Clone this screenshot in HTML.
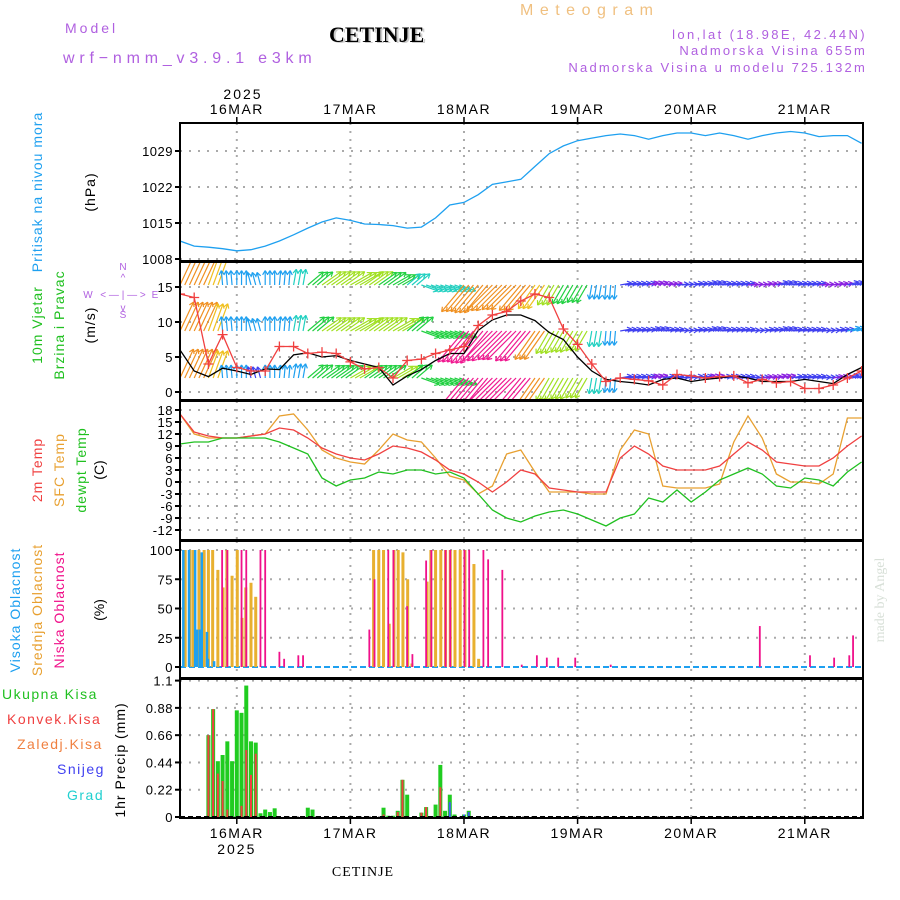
<!DOCTYPE html>
<html><head><meta charset="utf-8"><style>
html,body{margin:0;padding:0;background:#fff;}
svg{display:block;font-family:"Liberation Sans",sans-serif;}
</style></head><body>
<svg id="chart" width="900" height="900" viewBox="0 0 900 900">
<g>
<text x="65" y="33" fill="#b060e0" font-size="14" letter-spacing="3">Model</text>
<text x="63" y="63" fill="#b060e0" font-size="16" letter-spacing="4.8">wrf−nmm_v3.9.1 e3km</text>
<text x="331" y="43" fill="#ccc" font-size="22" font-weight="bold" font-family="Liberation Serif,serif">CETINJE</text>
<text x="329" y="42" fill="#000" font-size="22" font-weight="bold" font-family="Liberation Serif,serif">CETINJE</text>
<text x="520" y="15" fill="#f0c080" font-size="16" letter-spacing="6.5">Meteogram</text>
<text x="867" y="39" fill="#b060e0" font-size="13" text-anchor="end" letter-spacing="2.4">lon,lat (18.98E, 42.44N)</text>
<text x="867" y="55" fill="#b060e0" font-size="13" text-anchor="end" letter-spacing="2.2">Nadmorska Visina 655m</text>
<text x="867" y="72" fill="#b060e0" font-size="13" text-anchor="end" letter-spacing="2.2">Nadmorska Visina u modelu 725.132m</text>
<text x="243" y="99" fill="#000" font-size="14" text-anchor="middle" letter-spacing="2">2025</text>
<text x="363" y="876" fill="#000" font-size="14" text-anchor="middle" font-family="Liberation Serif,serif" letter-spacing="1">CETINJE</text>
<text transform="translate(884,600) rotate(-90)" fill="#d8e0d8" font-size="14" text-anchor="middle" font-family="Liberation Serif,serif">made by Angel</text>
</g>
<g>
<text transform="translate(42,192) rotate(-90)" fill="#1ea0f0" font-size="14" text-anchor="middle" letter-spacing="1">Pritisak na nivou mora</text>
<text transform="translate(95,192) rotate(-90)" fill="#000" font-size="14" text-anchor="middle" letter-spacing="1">(hPa)</text>
<text transform="translate(42,325) rotate(-90)" fill="#20c020" font-size="14" text-anchor="middle" letter-spacing="1">10m Vjetar</text>
<text transform="translate(64,325) rotate(-90)" fill="#20c020" font-size="14" text-anchor="middle" letter-spacing="1">Brzina i Pravac</text>
<text transform="translate(95,325) rotate(-90)" fill="#000" font-size="14" text-anchor="middle" letter-spacing="1">(m/s)</text>
<g fill="#b060e0" font-size="10" text-anchor="middle">
<text x="123" y="270">N</text><text x="123" y="281">^</text><text x="123" y="318">S</text><text x="123" y="311">v</text>
<text x="88" y="298">W</text><text x="155" y="298">E</text>
<text x="123" y="298">&lt; — | — &gt;</text></g>
<text transform="translate(42,470) rotate(-90)" fill="#f04040" font-size="14" text-anchor="middle" letter-spacing="1">2m Temp</text>
<text transform="translate(64,470) rotate(-90)" fill="#e8a030" font-size="14" text-anchor="middle" letter-spacing="1">SFC Temp</text>
<text transform="translate(86,470) rotate(-90)" fill="#20c020" font-size="14" text-anchor="middle" letter-spacing="1">dewpt Temp</text>
<text transform="translate(104,470) rotate(-90)" fill="#000" font-size="14" text-anchor="middle">(C)</text>
<text transform="translate(20,610) rotate(-90)" fill="#1ea0f0" font-size="14" text-anchor="middle" letter-spacing="1">Visoka Oblacnost</text>
<text transform="translate(42,610) rotate(-90)" fill="#e8a030" font-size="14" text-anchor="middle" letter-spacing="1">Srednja Oblacnost</text>
<text transform="translate(64,610) rotate(-90)" fill="#f0108a" font-size="14" text-anchor="middle" letter-spacing="1">Niska Oblacnost</text>
<text transform="translate(104,610) rotate(-90)" fill="#000" font-size="14" text-anchor="middle">(%)</text>
<text transform="translate(125,760) rotate(-90)" fill="#000" font-size="14" text-anchor="middle" letter-spacing="1">1hr Precip (mm)</text>
<text x="2" y="699" fill="#20c020" font-size="14" letter-spacing="1.5">Ukupna Kisa</text>
<text x="7" y="724" fill="#f04040" font-size="14" letter-spacing="1.5">Konvek.Kisa</text>
<text x="17" y="749" fill="#f08040" font-size="14" letter-spacing="1.5">Zaledj.Kisa</text>
<text x="57" y="774" fill="#4040f0" font-size="14" letter-spacing="1.5">Snijeg</text>
<text x="67" y="800" fill="#20d0d0" font-size="14" letter-spacing="1.5">Grad</text>
</g>
<g id="plot"></g>
</svg>
<script>
const dayLabels=["16MAR","17MAR","18MAR","19MAR","20MAR","21MAR"];
const dayHours=[12,36,60,84,108,132];
const pressure=[1011.5,1010.5,1010.3,1010,1009.6,1009.8,1010.5,1011.5,1012.7,1014,1015.2,1016,1015.5,1014.8,1014.7,1014.5,1014,1014.2,1016,1018.5,1019,1020.5,1022.5,1023,1023.5,1026,1028.5,1030,1031,1031.5,1032,1032.3,1032,1031.3,1032,1032.5,1032.5,1032,1032.5,1032,1031.3,1032,1032.5,1032.8,1032.5,1031.8,1032,1032,1030.5];
const windSpeed=[6,3,2.2,3.4,3,2.5,3.3,3.2,5.3,5.6,5,5.2,4.5,4,3.5,1,2.3,3.2,4.5,5.5,5.5,8.8,10.3,11,11,10.2,8.5,7.5,5,3,1.8,1.5,1.3,1,1.8,2,1.5,1.8,2,2.3,2,1.5,1.5,1.5,1.8,1.5,1.2,2.5,3.5];
const windGust=[14,13.5,4,8.2,3.5,3,3,6.5,6.5,5.5,5.7,5.5,4.3,3.3,3.5,2,4.5,4.7,5.5,6,6.5,9.5,11,11.5,13,14,13.5,9,6.8,4,1.5,2,1.8,1.6,1,2.5,2.3,2,2.2,2.3,1.3,1.8,1.3,1.5,0.5,0.5,1,2,3];
const windDir=[25,25,20,355,0,345,0,5,10,50,55,55,60,55,55,60,50,110,110,110,220,220,225,225,220,215,210,210,210,190,185,80,80,75,80,85,80,75,80,80,85,80,75,80,80,85,80,75,60];
const windLev1=[22,22,20,9,9,8,9,9,10,14,15,15,16,15,15,16,14,13,13,13,28,28,29,28,27,24,18,17,16,11,10,8,8,7,8,8,8,7,8,8,8,7,7,8,8,8,7,8,9];
const windLev2=[22,22,20,10,10,9,10,10,11,15,16,16,17,16,16,17,15,13,13,13,28,29,29,28,27,24,18,17,16,11,10,8,8,8,8,8,8,8,8,8,8,8,8,8,8,8,8,9,9];
const windLev3=[22,22,20,10,10,9,10,10,11,14,16,16,17,16,15,14,12,12,12,12,24,25,25,24,23,20,16,15,14,10,10,8,8,7,7,8,8,8,8,8,7,7,8,8,8,7,7,8,9];
const temp2m=[17,12.5,11.5,11,11,11.5,12,13.5,13,11,8.5,7,6,5.5,7,9,8.5,7.5,5.5,3,2,0,-2.5,0,3,2,-1.5,-2,-2.5,-2.5,-2.5,6,9,7,4,3,3,3,4,7,10,8,5,4.5,4,4,6,9,11.5];
const tempSfc=[17,12,11,11,11,11.5,12,16.5,17,13,8,6,5,4.5,8,12,10.5,10,6,1.5,0.5,-3,-1,7,8,2.5,-2.5,-2.5,-2.5,-3,-3,8,13,12,-1,-1.5,-1.5,-1.5,-0.5,10,16.5,11,2,0,0,-0.5,2,16,16];
const tempDew=[9.5,10,10,11,11,11,11,10,8.5,7,1,-1,0.5,1,2.5,2,3,3,2,2.5,1,-3,-7,-9,-10,-8.5,-7.5,-7,-8,-9.5,-11,-9,-8,-4,-5,-2,-5,-2.5,0.5,2,3.5,2,-1,-1.5,1,0.5,-1,2.5,5];
const highCloudH=[0.7,1.9,3.2,3.6,4.2,4.6,5.7,5.9,7.2];
const highCloudV=[100,100,100,32,32,98,30,7,5];
const midCloudH=[1.1,2.1,2.8,4,5.1,6,6.9,8,9.1,9.9,11,12.1,13.1,13.9,15,16,40.9,42,43,44.2,45.2,46.1,47.1,48.1,49,52.2,53,54,55.1,56.1,57.1,58.1,59.2,60.2,62.1,63.1];
const midCloudV=[100,100,100,100,100,100,100,83,68,100,78,100,42,68,72,60,100,100,100,37,100,100,98,75,3,73,100,100,100,100,100,100,100,100,88,7];
const lowCloudH=[8.9,10,13,14,17,18,21,22,25,26,40,41.1,44,45.1,48,49.1,52,53.1,56.1,57.1,60.1,61.1,64.1,65.1,68.1,72.2,75.4,77.5,79.9,83.5,91,122.5,133.1,138.2,141.4,142.2];
const lowCloudV=[100,100,100,100,100,100,13,7,10,10,32,75,100,100,52,11,91,100,100,100,100,100,100,92,83,2,10,8,8,8,2,35,10,8,10,27];
const precipH=[6,7,8,9,10,11,12,13,14,15,16,17,18,19,20,27,28,43,44,45,46,47,48,51,52,54,55,56,57,58,60,61];
const precipTotal=[0.66,0.87,0.45,0.5,0.61,0.45,0.86,0.84,1.06,0.61,0.6,0.03,0.06,0.04,0.07,0.075,0.06,0.075,0.01,0.01,0.05,0.3,0.18,0.035,0.08,0.1,0.42,0.05,0.18,0.02,0.02,0.05];
const precipConv=[0.66,0.87,0.35,0.29,0.06,0,0,0.09,0.54,0.34,0.51,0,0,0,0,0,0,0.02,0,0,0.04,0.3,0,0.035,0.08,0,0.24,0,0,0,0,0];
const precipSnow=[0,0,0,0,0,0,0,0,0,0,0,0,0,0,0,0,0,0,0,0,0,0,0,0,0,0,0,0,0.12,0,0.02,0.04];
const pTicks=[1008,1015,1022,1029];
const wTicks=[0,5,10,15];
const tTicks=[-12,-9,-6,-3,0,3,6,9,12,15,18];
const cTicks=[0,25,50,75,100];
const rTicks=["0","0.22","0.44","0.66","0.88","1.1"];

const NS="http://www.w3.org/2000/svg";
const plot=document.getElementById('plot');
function mk(tag,attrs,parent){const e=document.createElementNS(NS,tag);for(const k in attrs)e.setAttribute(k,attrs[k]);(parent||plot).appendChild(e);return e;}
const X0=180,X1=863,HOURS=144.3;
const xH=h=>X0+h*(X1-X0)/HOURS;
const yP=p=>259-(p-1008)*36/7;
const yW=w=>392-w*7;
const yT=t=>410+(18-t)*4;
const yC=c=>667-c*1.17;
const yR=r=>817-r*124;
const panels=[{t:123,b:261,n:'pressure-panel'},{t:262,b:400,n:'wind-panel'},{t:401,b:540,n:'temp-panel'},{t:541,b:678,n:'cloud-panel'},{t:679,b:818,n:'precip-panel'}];
const grid=mk('g',{});


panels.forEach(p=>{dayHours.forEach(h=>{mk('line',{x1:xH(h),x2:xH(h),y1:p.t,y2:p.b,stroke:'#aaa','stroke-width':2,'stroke-dasharray':'2,6'},grid);});});
function hgrid(vals,f,fmt,name){const g=mk('g',{});
 vals.forEach(v=>{const y=f(+v);mk('line',{x1:X0,x2:X1,y1:y,y2:y,stroke:'#aaa','stroke-width':2,'stroke-dasharray':'2,7'},g);
 mk('line',{x1:X0-5,x2:X0,y1:y,y2:y,stroke:'#000','stroke-width':2},g);
 const t=mk('text',{x:X0-7,y:y+5,'text-anchor':'end','font-size':13,fill:'#000','letter-spacing':'0.5'},g);t.textContent=fmt(v);});}
hgrid(pTicks,yP,v=>v,'pressure-y-axis');
hgrid(wTicks,yW,v=>v,'wind-y-axis');
hgrid(tTicks,yT,v=>v,'temp-y-axis');
hgrid(cTicks,yC,v=>v,'cloud-y-axis');
hgrid(rTicks,yR,v=>v,'precip-y-axis');
function line(arr,f,color,name,w){const d=arr.map((v,i)=>(i?'L':'M')+xH(i*3).toFixed(1)+','+f(v).toFixed(1)).join('');const p=mk('path',{d:d,fill:'none',stroke:color,'stroke-width':w||1.3});return p;}
const cp1=mk('clipPath',{id:'c1'});mk('rect',{x:X0,y:123,width:X1-X0,height:138},cp1);
line(pressure,yP,'#1ea0f0','pressure-line').setAttribute('clip-path','url(#c1)');
const cp2=mk('clipPath',{id:'c2'});mk('rect',{x:X0,y:262,width:X1-X0,height:138},cp2);
const wg=mk('g',{'clip-path':'url(#c2)'});


function spdColor(s){if(s<7.5)return '#8a20e0';if(s<9)return '#4040f0';if(s<10.5)return '#1ea0f0';if(s<13)return '#20d0c0';if(s<16)return '#20d040';if(s<19)return '#a0e020';if(s<22)return '#f0c020';if(s<26)return '#f09020';return '#f01890';}
const rows=[{b:378,a:windLev1},{b:331,a:windLev2},{b:285,a:windLev3}];
rows.forEach(r=>{r.a.forEach((s,i)=>{for(let k=0;k<3;k++){const h=i*3+k;if(h>144)continue;const d=windDir[i]*Math.PI/180;const L=s*1.45;
 const x0=xH(h),y0=r.b,x1=x0+Math.sin(d)*L,y1=y0-Math.cos(d)*L;const c=spdColor(s);
 mk('line',{x1:x0,y1:y0,x2:x1,y2:y1,stroke:c,'stroke-width':1.2},wg);
 const a=Math.atan2(y1-y0,x1-x0);[2.6,-2.6].forEach(o=>{mk('line',{x1:x1,y1:y1,x2:x1+5*Math.cos(a+o),y2:y1+5*Math.sin(a+o),stroke:c,'stroke-width':1.2},wg);});}});});
line(windSpeed,yW,'#000','wind-speed-line').setAttribute('clip-path','url(#c2)');
line(windGust,yW,'#f04040','wind-gust-line').setAttribute('clip-path','url(#c2)');
const gg=mk('g',{'clip-path':'url(#c2)'});


windGust.forEach((v,i)=>{const x=xH(i*3),y=yW(v);mk('path',{d:`M${x-5},${y}H${x+5}M${x},${y-5}V${y+5}`,stroke:'#f04040','stroke-width':1.3},gg);});
line(tempSfc,yT,'#e8a030','sfc-temp-line');
line(temp2m,yT,'#f04040','temp-2m-line');
line(tempDew,yT,'#20c020','dewpoint-line');
function bars(H,V,f,color,w,name){const g=mk('g',{});
 H.forEach((h,i)=>{const y=f(V[i]);mk('rect',{x:xH(h)-w/2,y:y,width:w,height:Math.max(0,f(0)-y),fill:color},g);});}
mk('line',{x1:X0,x2:X1,y1:667,y2:667,stroke:'#1ea0f0','stroke-width':2,'stroke-dasharray':'6,3'});
bars(midCloudH,midCloudV,yC,'#e8b030',3,'mid-cloud-bars');
bars(highCloudH,highCloudV,yC,'#1ea0f0',2.5,'high-cloud-bars');
bars(lowCloudH,lowCloudV,yC,'#f0108a',1.8,'low-cloud-bars');
bars(precipH,precipTotal,yR,'#20cc20',4,'precip-total-bars');
bars(precipH,precipConv,yR,'#f04040',2,'precip-convective-bars');
bars(precipH,precipSnow,yR,'#4060f0',2,'precip-snow-bars');
mk('line',{x1:X0,x2:X1,y1:817,y2:817,stroke:'#000','stroke-width':2,'stroke-dasharray':'5,3'});
panels.forEach(p=>{const r=mk('rect',{x:X0,y:p.t,width:X1-X0,height:p.b-p.t,fill:'none',stroke:'#000','stroke-width':2});});
const xa=mk('g',{});


dayHours.forEach((h,i)=>{const x=xH(h);
 const t1=mk('text',{x:x,y:114,'text-anchor':'middle','font-size':14,fill:'#000','letter-spacing':'1.5'},xa);t1.textContent=dayLabels[i];
 const t2=mk('text',{x:x,y:838,'text-anchor':'middle','font-size':14,fill:'#000','letter-spacing':'1.5'},xa);t2.textContent=dayLabels[i];
 mk('line',{x1:x,x2:x,y1:117,y2:123,stroke:'#000','stroke-width':1.5},xa);mk('line',{x1:x,x2:x,y1:818,y2:824,stroke:'#000','stroke-width':1.5},xa);});
const yr=mk('text',{x:xH(12),y:854,'text-anchor':'middle','font-size':14,fill:'#000','letter-spacing':'2'},xa);yr.textContent='2025';
</script>
</body></html>
